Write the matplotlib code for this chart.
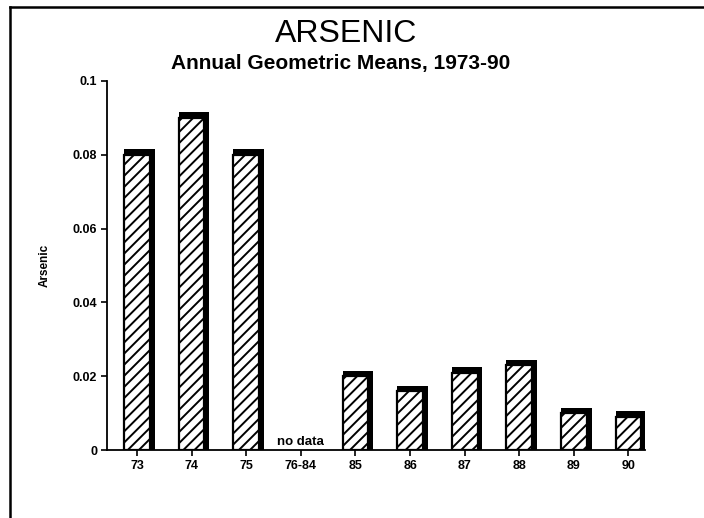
import numpy as np
import matplotlib.pyplot as plt
from matplotlib.lines import Line2D

plt.rcParams['font.family'] = ['Liberation Sans', 'DejaVu Sans']
plt.rcParams['hatch.linewidth'] = 1.4

# data
years = ['73', '74', '75', '76-84', '85', '86', '87', '88', '89', '90']
arsenic = [0.080, 0.090, 0.080, np.nan, 0.020, 0.016, 0.021, 0.023, 0.010, 0.009]
y_ticks = [0, 0.02, 0.04, 0.06, 0.08, 0.1]
y_tick_labels = ['0', '0.02', '0.04', '0.06', '0.08', '0.1']

fig = plt.figure(figsize=(7.04, 5.18), dpi=100)
ax = fig.add_axes([0.152, 0.131, 0.764, 0.713])

x = np.arange(len(years))
vals = np.array(arsenic)
has = ~np.isnan(vals)
w = 0.47

# thick black top and right border (shadow), then the hatched bar on top
ax.bar(x[has] - w / 2, vals[has] + 0.0015, width=w + 0.09, align='edge',
       color='black', linewidth=0, zorder=2)
ax.bar(x[has], vals[has], width=w, color='white', edgecolor='black',
       hatch='///', linewidth=1.6, zorder=3)

ax.text(3, 0.0006, 'no data', ha='center', va='bottom', fontsize=9.5,
        fontweight='bold')

ax.set_xlim(-0.55, 9.3)
ax.set_ylim(0, 0.1)
ax.set_xticks(x)
ax.set_xticklabels(years, fontsize=9, fontweight='bold')
ax.set_yticks(y_ticks)
ax.set_yticklabels(y_tick_labels, fontsize=9, fontweight='bold')
ax.tick_params(axis='both', length=4, width=1.2, pad=3)
ax.spines['top'].set_visible(False)
ax.spines['right'].set_visible(False)
ax.spines['left'].set_linewidth(1.3)
ax.spines['bottom'].set_linewidth(1.3)
ax.set_ylabel('Arsenic', fontsize=8.5, fontweight='bold', labelpad=16)

fig.text(0.492, 0.935, 'ARSENIC', ha='center', va='center', fontsize=23)
fig.text(0.484, 0.877, 'Annual Geometric Means, 1973-90', ha='center',
         va='center', fontsize=15, fontweight='bold')

# outer frame of the page (top and left edges visible)
fig.add_artist(Line2D([0.014, 1.0], [0.986, 0.986], color='black', lw=1.8,
                      transform=fig.transFigure))
fig.add_artist(Line2D([0.014, 0.014], [0.0, 0.986], color='black', lw=1.8,
                      transform=fig.transFigure))

fig.savefig('out.png', dpi=100)
